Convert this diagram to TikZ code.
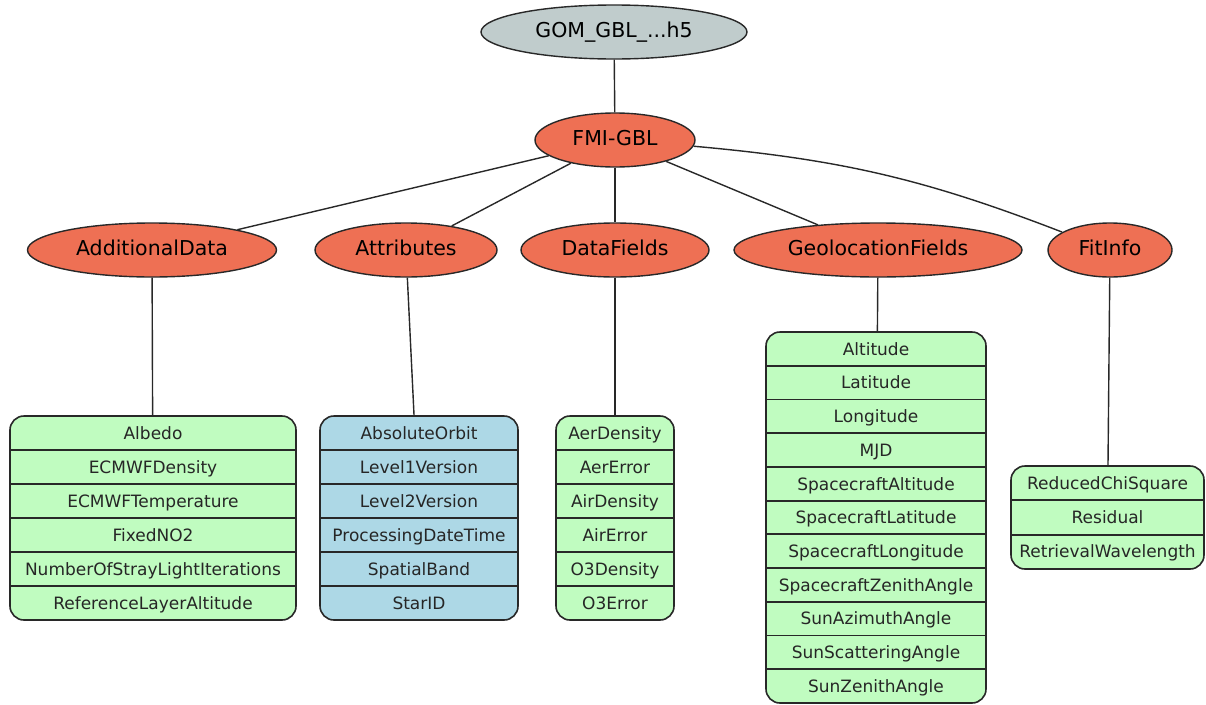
\documentclass[tikz,border=0pt]{standalone}
\usepackage{fontspec}
\setmainfont{DejaVu Sans}
\usetikzlibrary{shapes.geometric}
\definecolor{gvgray}{RGB}{192,204,204}
\definecolor{gvred}{RGB}{238,112,84}
\definecolor{gvgreen}{RGB}{192,252,192}
\definecolor{gvblue}{RGB}{173,216,230}
\definecolor{gvline}{RGB}{40,40,40}
\begin{document}
\begin{tikzpicture}[x=1pt,y=-1pt,
  ell/.style={ellipse, draw=gvline, line width=1.4pt, inner sep=0pt, text height=15pt, text depth=4pt, font=\fontsize{20.5}{24}\selectfont},
  rec/.style={draw=gvline, line width=1.6pt, rounded corners=14pt, inner sep=0pt},
  rowtxt/.style={font=\fontsize{17}{20}\selectfont, text=black!85, inner sep=0pt, anchor=base},
  divider/.style={draw=gvline, line width=1.8pt},
  edge/.style={draw=gvline, line width=1.4pt}]
\useasboundingbox (0,0) rectangle (1206,704);

% ellipses
\node[ell, fill=gvgray, minimum width=266pt, minimum height=54pt] (root) at (614,32) {GOM\_GBL\_...h5};
\node[ell, fill=gvred, minimum width=160pt, minimum height=54pt] (fmi) at (615,140) {FMI-GBL};
\node[ell, fill=gvred, minimum width=249pt, minimum height=54pt] (ad) at (152,250) {AdditionalData};
\node[ell, fill=gvred, minimum width=182pt, minimum height=54pt] (at) at (406,250) {Attributes};
\node[ell, fill=gvred, minimum width=188pt, minimum height=54pt] (df) at (615,250) {DataFields};
\node[ell, fill=gvred, minimum width=288pt, minimum height=54pt] (geo) at (878,250) {GeolocationFields};
\node[ell, fill=gvred, minimum width=124pt, minimum height=54pt] (fit) at (1110,250) {FitInfo};

% record boxes
\node[rec, fill=gvgreen, minimum width=286pt, minimum height=204pt] (adbox) at (153,518) {};
\foreach \k in {1,...,5} \draw[divider] (10,416+34*\k) -- (296,416+34*\k);
\foreach \t [count=\i from 0] in {Albedo,ECMWFDensity,ECMWFTemperature,FixedNO2,NumberOfStrayLightIterations,ReferenceLayerAltitude}
  \node[rowtxt] (ad-\i) at (153,439.2+34*\i) {\t};

\node[rec, fill=gvblue, minimum width=198pt, minimum height=204pt] (atbox) at (419,518) {};
\foreach \k in {1,...,5} \draw[divider] (320,416+34*\k) -- (518,416+34*\k);
\foreach \t [count=\i from 0] in {AbsoluteOrbit,Level1Version,Level2Version,ProcessingDateTime,SpatialBand,StarID}
  \node[rowtxt] (at-\i) at (419,439.2+34*\i) {\t};

\node[rec, fill=gvgreen, minimum width=118pt, minimum height=204pt] (dfbox) at (615,518) {};
\foreach \k in {1,...,5} \draw[divider] (556,416+34*\k) -- (674,416+34*\k);
\foreach \t [count=\i from 0] in {AerDensity,AerError,AirDensity,AirError,O3Density,O3Error}
  \node[rowtxt] (df-\i) at (615,439.2+34*\i) {\t};

\node[rec, fill=gvgreen, minimum width=220pt, minimum height=371pt] (geobox) at (876,517.5) {};
\foreach \k in {1,...,10} \draw[divider] (766,332+33.73*\k) -- (986,332+33.73*\k);
\foreach \t [count=\i from 0] in {Altitude,Latitude,Longitude,MJD,SpacecraftAltitude,SpacecraftLatitude,SpacecraftLongitude,SpacecraftZenithAngle,SunAzimuthAngle,SunScatteringAngle,SunZenithAngle}
  \node[rowtxt] (geo-\i) at (876,355.1+33.73*\i) {\t};

\node[rec, fill=gvgreen, minimum width=193pt, minimum height=103pt] (fitbox) at (1107.5,517.5) {};
\foreach \k in {1,2} \draw[divider] (1011,466+34.3*\k) -- (1204,466+34.3*\k);
\foreach \t [count=\i from 0] in {ReducedChiSquare,Residual,RetrievalWavelength}
  \node[rowtxt] (fit-\i) at (1107.5,489.2+34.3*\i) {\t};

% connectors
\draw[edge] (root) -- (fmi);
\draw[edge] (fmi) -- (ad);
\draw[edge] (fmi) -- (at);
\draw[edge] (fmi) -- (df);
\draw[edge] (fmi) -- (geo);
\draw[edge] (fmi) to[bend left=8] (fit);
\draw[edge] (ad) -- (adbox);
\draw[edge] (at) -- (atbox);
\draw[edge] (df) -- (dfbox);
\draw[edge] (geo) -- (geobox);
\draw[edge] (fit) -- (fitbox);
\end{tikzpicture}
\end{document}
